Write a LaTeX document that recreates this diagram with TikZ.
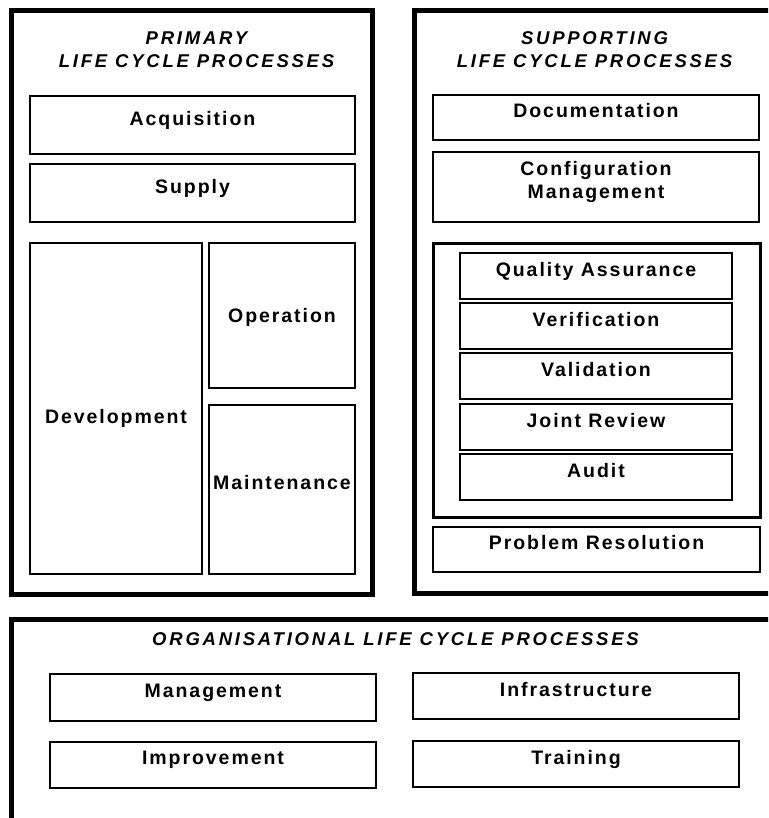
\documentclass[tikz,border=0pt]{standalone}
\usepackage{fontspec}
\setmainfont{Liberation Sans}
\newfontfamily\boxfont{Liberation Sans}[LetterSpace=10]
\newfontfamily\headfont{Liberation Sans}[LetterSpace=15]

\begin{document}
\begin{tikzpicture}[x=1pt,y=-1pt,
  frame/.style={draw,line width=5pt,inner sep=0pt},
  group/.style={draw,line width=3pt,inner sep=0pt},
  proc/.style={draw,line width=2.8pt,inner sep=0pt,text depth=14pt,align=center,
    font=\boxfont\bfseries\fontsize{19.5}{23}\selectfont},
  head/.style={align=center,font=\headfont\bfseries\itshape\fontsize{18.5}{23}\selectfont}]
\useasboundingbox (0,0) rectangle (768,818);
\clip (0,0) rectangle (768,818);
\node[frame,minimum width=361.5pt,minimum height=583pt] (prim) at (191.75,302.5) {};
\node[frame,minimum width=366pt,minimum height=582pt] (supp) at (597,302) {};
\node[frame,minimum width=768.5pt,minimum height=211pt] (org) at (395.75,724.5) {};
\node[head] (primt) at (196.5,50) {PRIMARY\\LIFE CYCLE PROCESSES};
\node[head] (suppt) at (594.5,50) {SUPPORTING\\LIFE CYCLE PROCESSES};
\node[head] (orgt) at (395.5,639.5) {ORGANISATIONAL LIFE CYCLE PROCESSES};
\node[proc,minimum width=325pt,minimum height=58pt] (acq) at (192.5,125) {Acquisition};
\node[proc,minimum width=325pt,minimum height=58pt] (sup) at (192.5,193) {Supply};
\node[proc,minimum width=172pt,minimum height=331pt,text height=30pt,text depth=0pt] (dev) at (116,408.5) {Development};
\node[proc,minimum width=146pt,minimum height=145pt,text depth=0pt] (op) at (282,315.5) {Operation};
\node[proc,minimum width=146pt,minimum height=169pt] (mnt) at (282,489.5) {Maintenance};
\node[proc,minimum width=326pt,minimum height=45pt] (doc) at (596,117.5) {Documentation};
\node[proc,minimum width=326pt,minimum height=70pt] (cfg) at (596,187) {Configuration\\Management};
\node[group,minimum width=327pt,minimum height=274pt] (grp) at (596.5,380) {};
\node[proc,minimum width=272pt,minimum height=46pt] (qa) at (596,276) {Quality Assurance};
\node[proc,minimum width=272pt,minimum height=46pt] (ver) at (596,326) {Verification};
\node[proc,minimum width=272pt,minimum height=46pt] (val) at (596,376) {Validation};
\node[proc,minimum width=272pt,minimum height=46pt] (jr) at (596,427) {Joint Review};
\node[proc,minimum width=272pt,minimum height=46pt] (aud) at (596,477) {Audit};
\node[proc,minimum width=327pt,minimum height=45pt] (prob) at (596.5,549.5) {Problem Resolution};
\node[proc,minimum width=326pt,minimum height=47pt] (mgmt) at (213,697.5) {Management};
\node[proc,minimum width=326pt,minimum height=46pt] (impr) at (213,765) {Improvement};
\node[proc,minimum width=326pt,minimum height=46pt] (infra) at (576,696) {Infrastructure};
\node[proc,minimum width=326pt,minimum height=46pt] (train) at (576,764) {Training};
\end{tikzpicture}
\end{document}
